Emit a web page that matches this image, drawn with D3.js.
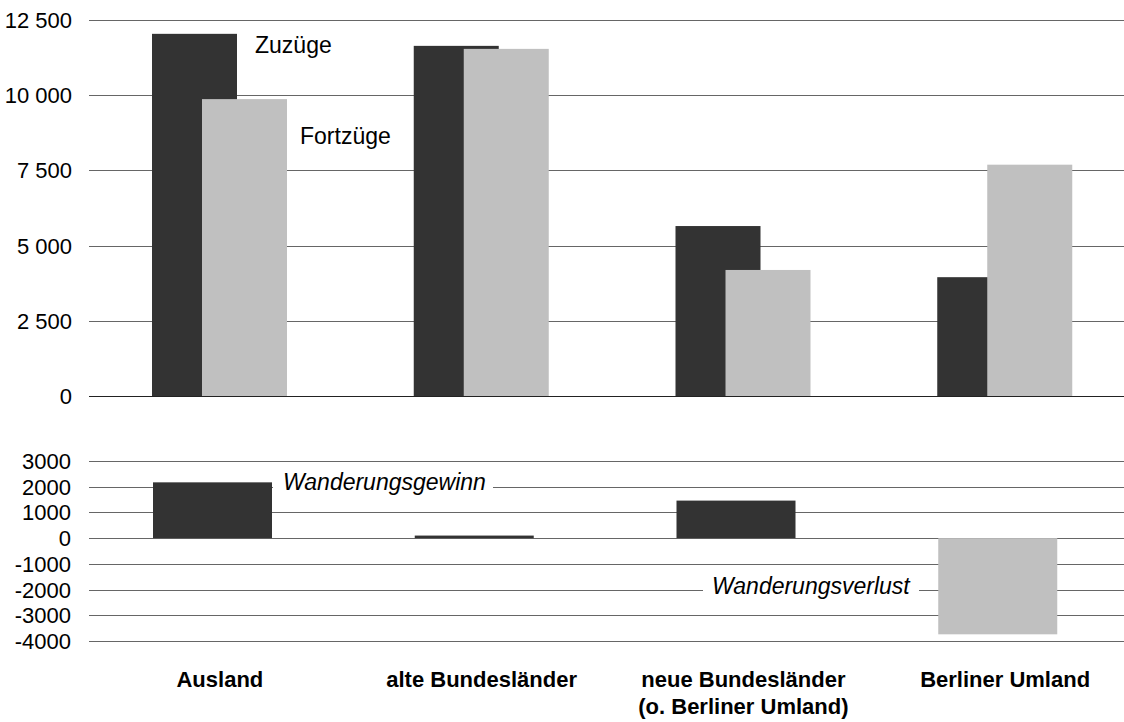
<!DOCTYPE html>
<html lang="de">
<head>
<meta charset="UTF-8" />
<title>Wanderungen</title>
<script src="https://cdn.jsdelivr.net/npm/d3@7/dist/d3.min.js"></script>
<style>
  body { margin: 0; background: #fff; }
  text { font-family: "Liberation Sans", Arial, sans-serif; fill: #000; }
</style>
</head>
<body>
<div id="chart"></div>
<script>
  // data
  const categories = ["Ausland", "alte Bundesländer", "neue Bundesländer", "Berliner Umland"];
  const zuzuege = [12040, 11640, 5650, 3950];
  const fortzuege = [9870, 11540, 4190, 7690];
  const saldo = [2170, 100, 1460, -3740];
  const topTicks = [0, 2500, 5000, 7500, 10000, 12500];
  const bottomTicks = [3000, 2000, 1000, 0, -1000, -2000, -3000, -4000];

  const W = 1124, H = 722;
  const svg = d3.select("#chart").append("svg")
    .attr("width", W).attr("height", H);

  const x = d3.scaleBand()
    .domain(categories)
    .range([89, 1136]);

  // upper panel
  const yTop = d3.scaleLinear().domain([0, 12500]).range([396, 20]);
  // lower panel
  const yBot = d3.scaleLinear().domain([-4000, 3000]).range([641, 461]);

  const fmt = d => d3.format(",")(d).replace(/,/g, " ");

  // grid top
  svg.append("g")
    .selectAll("line")
    .data(topTicks)
    .join("line")
    .attr("x1", 89).attr("x2", W)
    .attr("y1", d => Math.round(yTop(d)) + 0.5)
    .attr("y2", d => Math.round(yTop(d)) + 0.5)
    .attr("stroke", d => d === 0 ? "#222" : "#666");

  svg.append("g")
    .selectAll("text")
    .data(topTicks)
    .join("text")
    .attr("x", 72)
    .attr("y", d => yTop(d) + 8)
    .attr("text-anchor", "end")
    .style("font-size", "22px")
    .text(d => fmt(d));

  // grid bottom
  svg.append("g")
    .selectAll("line")
    .data(bottomTicks)
    .join("line")
    .attr("x1", 89).attr("x2", W)
    .attr("y1", d => Math.round(yBot(d)) + 0.5)
    .attr("y2", d => Math.round(yBot(d)) + 0.5)
    .attr("stroke", "#666");

  svg.append("g")
    .selectAll("text")
    .data(bottomTicks)
    .join("text")
    .attr("x", 71)
    .attr("y", d => yBot(d) + 8)
    .attr("text-anchor", "end")
    .style("font-size", "22px")
    .text(d => d);

  // bars top
  svg.append("g")
    .selectAll("rect")
    .data(categories)
    .join("rect")
    .attr("x", d => x(d) + 63)
    .attr("width", 85)
    .attr("y", (d, i) => yTop(zuzuege[i]))
    .attr("height", (d, i) => yTop(0) - yTop(zuzuege[i]))
    .attr("fill", "#333333");

  svg.append("g")
    .selectAll("rect")
    .data(categories)
    .join("rect")
    .attr("x", d => x(d) + 113)
    .attr("width", 85)
    .attr("y", (d, i) => yTop(fortzuege[i]))
    .attr("height", (d, i) => yTop(0) - yTop(fortzuege[i]))
    .attr("fill", "#c0c0c0");

  // annotations top
  svg.append("text")
    .attr("x", x("Ausland") + 166).attr("y", yTop(zuzuege[0]) + 19)
    .style("font-size", "23px")
    .text("Zuzüge");
  svg.append("text")
    .attr("x", x("Ausland") + 211).attr("y", yTop(fortzuege[0]) + 45)
    .style("font-size", "23px")
    .text("Fortzüge");

  // bars bottom
  svg.append("g")
    .selectAll("rect")
    .data(categories)
    .join("rect")
    .attr("x", d => x(d) + 64)
    .attr("width", 119)
    .attr("y", (d, i) => yBot(Math.max(0, saldo[i])))
    .attr("height", (d, i) => Math.abs(yBot(saldo[i]) - yBot(0)))
    .attr("fill", (d, i) => saldo[i] >= 0 ? "#333333" : "#c0c0c0");

  // annotations bottom
  const gain = svg.append("g");
  gain.append("rect")
    .attr("x", 273).attr("y", yBot(2000) - 14)
    .attr("width", 220).attr("height", 26)
    .attr("fill", "#fff");
  gain.append("text")
    .attr("x", 283).attr("y", yBot(2000) + 3)
    .style("font-size", "23px").style("font-style", "italic")
    .text("Wanderungsgewinn");

  const loss = svg.append("g");
  loss.append("rect")
    .attr("x", 703).attr("y", yBot(-2000) - 14)
    .attr("width", 216).attr("height", 26)
    .attr("fill", "#fff");
  loss.append("text")
    .attr("x", 712).attr("y", yBot(-2000) + 4)
    .style("font-size", "23px").style("font-style", "italic")
    .text("Wanderungsverlust");

  // category labels
  const catLines = [["Ausland"], ["alte Bundesländer"], ["neue Bundesländer", "(o. Berliner Umland)"], ["Berliner Umland"]];
  svg.append("g")
    .selectAll("text")
    .data(categories)
    .join("text")
    .attr("x", d => x(d) + x.bandwidth() / 2)
    .attr("y", 687)
    .attr("text-anchor", "middle")
    .style("font-size", "22px")
    .style("font-weight", "bold")
    .selectAll("tspan")
    .data((d, i) => catLines[i])
    .join("tspan")
    .attr("x", function () { return d3.select(this.parentNode).attr("x"); })
    .attr("dy", (d, i) => i === 0 ? 0 : 27)
    .text(d => d);
</script>
</body>
</html>
